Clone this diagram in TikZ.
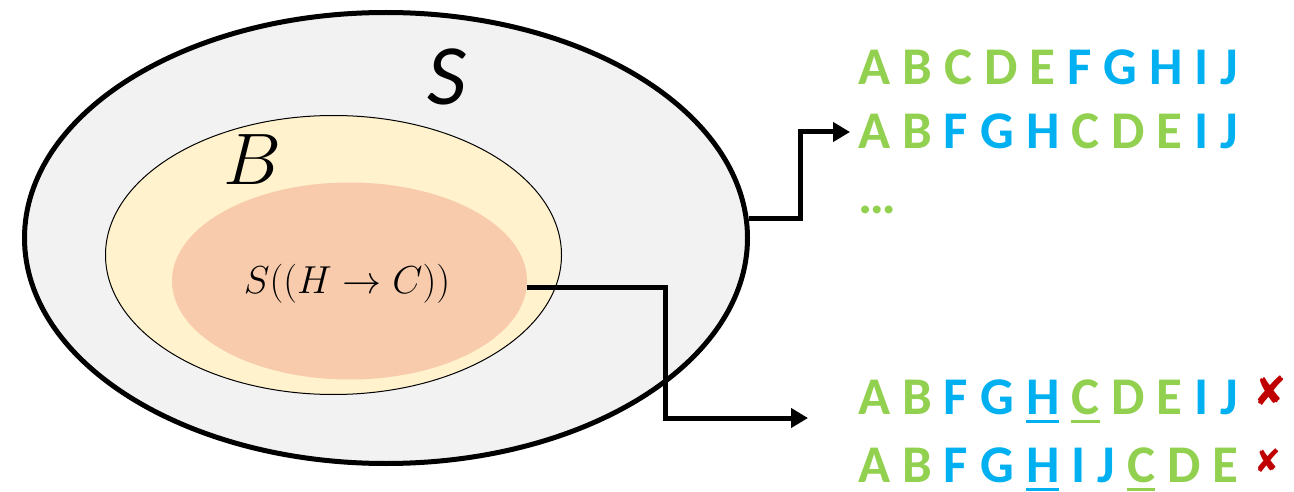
\RequirePackage{fix-cm}
\documentclass[tikz,border=0pt]{standalone}
\usepackage{fontspec}
\usetikzlibrary{shapes.geometric,arrows.meta}
\newfontfamily\carlito{Carlito}
\newfontfamily\dejavu{DejaVu Sans}
\definecolor{grn}{HTML}{92D050}
\definecolor{blu}{HTML}{00B0F0}
\definecolor{grayfill}{HTML}{F2F2F2}
\definecolor{yel}{HTML}{FFF2CC}
\definecolor{salmon}{HTML}{F8CBAD}
\definecolor{xred}{HTML}{C00000}
\newcommand\G[1]{\textcolor{grn}{#1}}
\newcommand\Bl[1]{\textcolor{blu}{#1}}
\newcommand\ulin[1]{\setbox0\hbox{#1}\rlap{\rule[-9pt]{\wd0}{3.5pt}}\box0\relax}
\tikzset{
  seq/.style={anchor=base west, inner sep=0pt, font=\carlito\bfseries\fontsize{53}{60}\selectfont},
  conn/.style={line width=5pt, -{Triangle[length=17pt,width=19pt]}},
  region/.style={ellipse, inner sep=0pt},
  cross/.style={text=xred, inner sep=0pt},
}
\begin{document}
\begin{tikzpicture}[x=1pt,y=-1pt]
\useasboundingbox (0,0) rectangle (1294,492);
% regions
\node[region, draw, line width=5pt, fill=grayfill, minimum width=723pt, minimum height=451pt] (S) at (386,238) {};
\node[region, draw, line width=1pt, fill=yel, minimum width=456pt, minimum height=279pt] (B) at (333.5,255) {};
\node[region, fill=salmon, minimum width=355pt, minimum height=197pt] (H) at (349.5,281) {};
% labels
\node[inner sep=0pt, font=\carlito\itshape\fontsize{86}{90}\selectfont] (Slab) at (447,77) {S};
\node[inner sep=0pt, font=\fontsize{73}{80}\selectfont] (Blab) at (252,160) {$B$};
\node[inner sep=0pt, font=\fontsize{39}{44}\selectfont] (expr) at (347,284) {$S((H\rightarrow C))$};
% sequences
\node[seq] (r1) at (858,85) {\G{A B C D E} \Bl{F G H I J}};
\node[seq] (r2) at (858,149) {\G{A B} \Bl{F G H} \G{C D E} \Bl{I J}};
\node[seq] (dots) at (858,213) {\G{…}};
\node[seq] (r3) at (858,414) {\G{A B} \Bl{F G \ulin{H}} \G{\ulin{C} D E} \Bl{I J}};
\node[seq] (r4) at (858,482) {\G{A B} \Bl{F G \ulin{H} I J} \G{\ulin{C} D E}};
\node[cross, font=\dejavu\fontsize{40}{40}\selectfont] (x1) at (1270,391) {✘};
\node[cross, font=\dejavu\fontsize{32}{32}\selectfont] (x2) at (1268,461) {✘};
% connectors
\coordinate (k1) at (800,132);
\coordinate (t1) at (850,132);
\draw[conn] (S.3.2) -| (k1) -- (t1);
\coordinate (k2) at (665,418);
\coordinate (t2) at (808,418);
\draw[conn] (H.-2) -| (k2) -- (t2);
\end{tikzpicture}
\end{document}
